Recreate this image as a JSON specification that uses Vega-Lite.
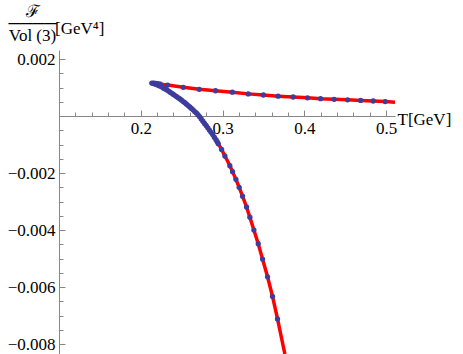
{
  "$schema": "https://vega.github.io/schema/vega-lite/v6.json",
  "width": 336,
  "height": 304,
  "autosize": {"type": "none"},
  "padding": {"left": 59, "top": 50, "right": 68, "bottom": 0},
  "background": "white",
  "config": {"view": {"stroke": null}, "font": "Liberation Serif"},
  "title": {"text": "[GeV⁴]", "anchor": "start", "frame": "group", "orient": "top", "font": "Liberation Serif", "fontSize": 17, "fontWeight": "normal", "color": "black", "dx": -4, "dy": 63, "offset": 14, "baseline": "alphabetic"},
  "datasets": {
    "curve": [
      {"ord": 1, "T": 0.3763, "F": -0.00835},
      {"ord": 2, "T": 0.3673, "F": -0.00712},
      {"ord": 3, "T": 0.3612, "F": -0.00633},
      {"ord": 4, "T": 0.3551, "F": -0.00564},
      {"ord": 5, "T": 0.3490, "F": -0.00502},
      {"ord": 6, "T": 0.3437, "F": -0.00448},
      {"ord": 7, "T": 0.3384, "F": -0.00400},
      {"ord": 8, "T": 0.3335, "F": -0.00355},
      {"ord": 9, "T": 0.3294, "F": -0.00319},
      {"ord": 10, "T": 0.3245, "F": -0.00281},
      {"ord": 11, "T": 0.3204, "F": -0.00250},
      {"ord": 12, "T": 0.3164, "F": -0.00222},
      {"ord": 13, "T": 0.3123, "F": -0.00195},
      {"ord": 14, "T": 0.3090, "F": -0.00174},
      {"ord": 15, "T": 0.3060, "F": -0.00157},
      {"ord": 16, "T": 0.3029, "F": -0.00140},
      {"ord": 17, "T": 0.2989, "F": -0.00117},
      {"ord": 18, "T": 0.2948, "F": -0.00097},
      {"ord": 19, "T": 0.2918, "F": -0.00082},
      {"ord": 20, "T": 0.2886, "F": -0.00068},
      {"ord": 21, "T": 0.2856, "F": -0.00055},
      {"ord": 22, "T": 0.2825, "F": -0.00043},
      {"ord": 23, "T": 0.2795, "F": -0.00031},
      {"ord": 24, "T": 0.2764, "F": -0.00020},
      {"ord": 25, "T": 0.2735, "F": -0.00008},
      {"ord": 26, "T": 0.2703, "F": 0.00004},
      {"ord": 27, "T": 0.2660, "F": 0.00016},
      {"ord": 28, "T": 0.2622, "F": 0.00027},
      {"ord": 29, "T": 0.2560, "F": 0.00042},
      {"ord": 30, "T": 0.2500, "F": 0.00056},
      {"ord": 31, "T": 0.2440, "F": 0.00068},
      {"ord": 32, "T": 0.2377, "F": 0.00080},
      {"ord": 33, "T": 0.2320, "F": 0.00092},
      {"ord": 34, "T": 0.2255, "F": 0.00103},
      {"ord": 35, "T": 0.2200, "F": 0.00110},
      {"ord": 36, "T": 0.2135, "F": 0.00116},
      {"ord": 37, "T": 0.2200, "F": 0.00113},
      {"ord": 38, "T": 0.2328, "F": 0.00109},
      {"ord": 39, "T": 0.2520, "F": 0.00101},
      {"ord": 40, "T": 0.2715, "F": 0.00094},
      {"ord": 41, "T": 0.2915, "F": 0.00089},
      {"ord": 42, "T": 0.3120, "F": 0.00084},
      {"ord": 43, "T": 0.3315, "F": 0.00078},
      {"ord": 44, "T": 0.3500, "F": 0.00074},
      {"ord": 45, "T": 0.3680, "F": 0.00070},
      {"ord": 46, "T": 0.3864, "F": 0.00067},
      {"ord": 47, "T": 0.4040, "F": 0.00064},
      {"ord": 48, "T": 0.4200, "F": 0.00061},
      {"ord": 49, "T": 0.4366, "F": 0.00059},
      {"ord": 50, "T": 0.4530, "F": 0.00057},
      {"ord": 51, "T": 0.4690, "F": 0.00055},
      {"ord": 52, "T": 0.4843, "F": 0.00053},
      {"ord": 53, "T": 0.4990, "F": 0.00051},
      {"ord": 54, "T": 0.5110, "F": 0.00049}
    ],
    "dots": [
      {"T": 0.2135, "F": 0.00116}, {"T": 0.2150, "F": 0.00115}, {"T": 0.2165, "F": 0.00114},
      {"T": 0.2180, "F": 0.00112}, {"T": 0.2200, "F": 0.00110}, {"T": 0.2220, "F": 0.00107},
      {"T": 0.2240, "F": 0.00105}, {"T": 0.2260, "F": 0.00102}, {"T": 0.2280, "F": 0.00098},
      {"T": 0.2300, "F": 0.00095}, {"T": 0.2320, "F": 0.00092}, {"T": 0.2340, "F": 0.00088},
      {"T": 0.2360, "F": 0.00084}, {"T": 0.2380, "F": 0.00080}, {"T": 0.2400, "F": 0.00076},
      {"T": 0.2420, "F": 0.00072}, {"T": 0.2440, "F": 0.00068}, {"T": 0.2460, "F": 0.00064},
      {"T": 0.2480, "F": 0.00060}, {"T": 0.2500, "F": 0.00056}, {"T": 0.2520, "F": 0.00051},
      {"T": 0.2540, "F": 0.00047}, {"T": 0.2560, "F": 0.00042}, {"T": 0.2580, "F": 0.00037},
      {"T": 0.2600, "F": 0.00032}, {"T": 0.2620, "F": 0.00027}, {"T": 0.2640, "F": 0.00022},
      {"T": 0.2660, "F": 0.00016}, {"T": 0.2680, "F": 0.00011}, {"T": 0.2700, "F": 0.00005},
      {"T": 0.2720, "F": -0.00002}, {"T": 0.2740, "F": -0.00010}, {"T": 0.2760, "F": -0.00018},
      {"T": 0.2780, "F": -0.00026}, {"T": 0.2800, "F": -0.00033}, {"T": 0.2820, "F": -0.00041},
      {"T": 0.2840, "F": -0.00049}, {"T": 0.2860, "F": -0.00057}, {"T": 0.2880, "F": -0.00065},
      {"T": 0.2900, "F": -0.00074}, {"T": 0.2920, "F": -0.00083}, {"T": 0.2935, "F": -0.00090},
      {"T": 0.2948, "F": -0.00097}, {"T": 0.2989, "F": -0.00117}, {"T": 0.3029, "F": -0.00140},
      {"T": 0.3090, "F": -0.00174}, {"T": 0.3123, "F": -0.00195}, {"T": 0.3164, "F": -0.00222},
      {"T": 0.3204, "F": -0.00250}, {"T": 0.3245, "F": -0.00281}, {"T": 0.3294, "F": -0.00319},
      {"T": 0.3335, "F": -0.00355}, {"T": 0.3384, "F": -0.00400}, {"T": 0.3437, "F": -0.00448},
      {"T": 0.3490, "F": -0.00502}, {"T": 0.3551, "F": -0.00564}, {"T": 0.3612, "F": -0.00633},
      {"T": 0.3673, "F": -0.00712},
      {"T": 0.2160, "F": 0.00116}, {"T": 0.2180, "F": 0.00115}, {"T": 0.2200, "F": 0.00114},
      {"T": 0.2220, "F": 0.00113}, {"T": 0.2240, "F": 0.00112},
      {"T": 0.2328, "F": 0.00109}, {"T": 0.2520, "F": 0.00101}, {"T": 0.2715, "F": 0.00094},
      {"T": 0.2915, "F": 0.00089}, {"T": 0.3120, "F": 0.00084}, {"T": 0.3315, "F": 0.00078},
      {"T": 0.3500, "F": 0.00074}, {"T": 0.3680, "F": 0.00070}, {"T": 0.3864, "F": 0.00067},
      {"T": 0.4040, "F": 0.00064}, {"T": 0.4200, "F": 0.00061}, {"T": 0.4366, "F": 0.00059},
      {"T": 0.4530, "F": 0.00057}, {"T": 0.4690, "F": 0.00055}, {"T": 0.4843, "F": 0.00053},
      {"T": 0.4990, "F": 0.00051}
    ]
  },
  "encoding": {
    "x": {
      "field": "T", "type": "quantitative",
      "scale": {"domain": [0.1, 0.511], "nice": false, "zero": false},
      "axis": {
        "orient": "bottom",
        "offset": -238,
        "values": [0.12, 0.14, 0.16, 0.18, 0.2, 0.22, 0.24, 0.26, 0.28, 0.3, 0.32, 0.34, 0.36, 0.38, 0.4, 0.42, 0.44, 0.46, 0.48, 0.5],
        "labelExpr": "abs(datum.value*10 - round(datum.value*10)) < 0.001 ? format(datum.value, '.1f') : ''",
        "tickSize": {"condition": {"test": "abs(datum.value*10 - round(datum.value*10)) < 0.001", "value": -6}, "value": -4},
        "labelPadding": 10,
        "labelFont": "Liberation Serif", "labelFontSize": 17, "labelColor": "black",
        "labelFlush": false, "labelOverlap": false,
        "domainColor": "#888888", "tickColor": "#888888", "grid": false,
        "title": "T[GeV]", "titleFont": "Liberation Serif", "titleFontSize": 17, "titleFontWeight": "normal", "titleColor": "black",
        "titleX": 338, "titleY": 8, "titleAlign": "left", "titleBaseline": "alphabetic", "titleAngle": 0
      }
    },
    "y": {
      "field": "F", "type": "quantitative",
      "scale": {"domain": [-0.00835, 0.00232], "nice": false, "zero": false},
      "axis": {
        "values": [0.002, 0.0015, 0.001, 0.0005, -0.0005, -0.001, -0.0015, -0.002, -0.0025, -0.003, -0.0035, -0.004, -0.0045, -0.005, -0.0055, -0.006, -0.0065, -0.007, -0.0075, -0.008],
        "labelExpr": "abs(datum.value*500 - round(datum.value*500)) < 0.001 ? (datum.value < 0 ? '−' + format(-datum.value, '.3f') : format(datum.value, '.3f')) : ''",
        "tickSize": {"condition": {"test": "abs(datum.value*500 - round(datum.value*500)) < 0.001", "value": -6}, "value": -4},
        "labelPadding": 10,
        "labelFont": "Liberation Serif", "labelFontSize": 17, "labelColor": "black",
        "labelFlush": false, "labelOverlap": false,
        "domainColor": "#888888", "tickColor": "#888888", "grid": false,
        "title": ["ℱ", "────", "Vol (3)"],
        "titleFont": "Liberation Serif", "titleFontSize": 17, "titleFontWeight": "normal", "titleColor": "black",
        "titleAngle": 0, "titleX": -27, "titleY": -34, "titleAlign": "center", "titleBaseline": "alphabetic", "titleLineHeight": 12
      }
    }
  },
  "layer": [
    {
      "data": {"name": "curve"},
      "mark": {"type": "line", "color": "#ff0000", "strokeWidth": 3.5, "clip": true},
      "encoding": {"order": {"field": "ord", "type": "quantitative"}}
    },
    {
      "data": {"name": "dots"},
      "mark": {"type": "point", "filled": true, "color": "#3d3d9e", "opacity": 1, "size": 28, "clip": true}
    }
  ]
}
